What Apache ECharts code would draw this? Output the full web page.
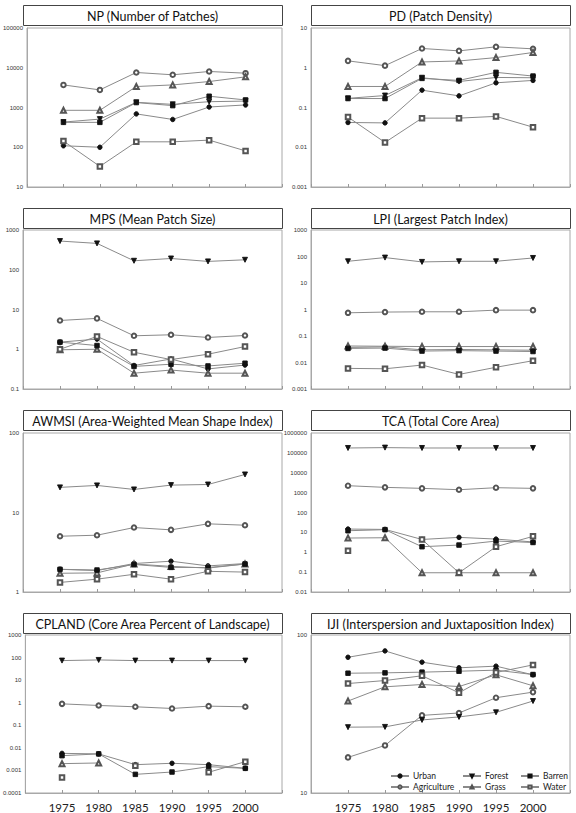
<!DOCTYPE html>
<html>
<head>
<meta charset="utf-8">
<script src="https://cdn.jsdelivr.net/npm/echarts@6/dist/echarts.min.js"></script>
<style>html,body{margin:0;padding:0;background:#fff}#c{width:576px;height:813px}</style>
</head>
<body>
<div id="c"></div>
<script>
// ---- data ----
const years = [1975, 1980, 1985, 1990, 1995, 2000];
const seriesNames = ['Urban', 'Agriculture', 'Forest', 'Grass', 'Barren', 'Water'];
const panelTitles = [
  'NP (Number of Patches)', 'PD (Patch Density)',
  'MPS (Mean Patch Size)', 'LPI (Largest Patch Index)',
  'AWMSI (Area-Weighted Mean Shape Index)', 'TCA (Total Core Area)',
  'CPLAND (Core Area Percent of Landscape)', 'IJI (Interspersion and Juxtaposition Index)'
];
const yMin = [10, 0.001, 0.1, 0.001, 1, 0.01, 0.0001, 10];
const yMax = [100000, 10, 1000, 1000, 100, 1000000, 1000, 100];

// rows: Urban, Agriculture, Forest, Grass, Barren, Water
const NP = [
  [109, 100, 690, 500, 1030, 1160],
  [3700, 2770, 7600, 6650, 8050, 7300],
  [430, 510, 1350, 1200, 1400, 1450],
  [850, 850, 3370, 3700, 4500, 5900],
  [423, 423, 1330, 1115, 1920, 1550],
  [143, 33, 137, 137, 151, 81]
];
const PD = [
  [0.042, 0.041, 0.273, 0.196, 0.418, 0.48],
  [1.49, 1.13, 3.05, 2.66, 3.36, 2.99],
  [0.17, 0.2, 0.56, 0.45, 0.57, 0.56],
  [0.338, 0.338, 1.40, 1.48, 1.80, 2.42],
  [0.168, 0.168, 0.54, 0.48, 0.766, 0.618],
  [0.0575, 0.0132, 0.054, 0.054, 0.0598, 0.032]
];
const MPS = [
  [1.51, 1.80, 0.39, 0.57, 0.32, 0.40],
  [5.3, 5.98, 2.18, 2.31, 1.98, 2.22],
  [527, 460, 168, 192, 162, 178],
  [0.97, 1.0, 0.25, 0.30, 0.25, 0.25],
  [1.51, 1.24, 0.37, 0.42, 0.38, 0.445],
  [1.0, 2.1, 0.84, 0.55, 0.75, 1.17]
];
const LPI = [
  [0.037, 0.039, 0.030, 0.031, 0.030, 0.029],
  [0.75, 0.80, 0.82, 0.82, 0.946, 0.946],
  [66, 91, 62.5, 66, 66, 88],
  [0.042, 0.041, 0.040, 0.040, 0.040, 0.040],
  [0.034, 0.035, 0.027, 0.028, 0.027, 0.026],
  [0.006, 0.0058, 0.008, 0.00355, 0.0066, 0.0117]
];
const AWMSI = [
  [1.93, 1.86, 2.28, 2.44, 2.13, 2.28],
  [5.03, 5.18, 6.47, 6.05, 7.2, 6.92],
  [20.7, 21.9, 19.5, 22.1, 22.5, 30.1],
  [1.72, 1.74, 2.25, 2.1, 2.0, 2.25],
  [1.93, 1.89, 2.22, 2.04, 2.03, 2.25],
  [1.32, 1.45, 1.67, 1.45, 1.82, 1.78]
];
const TCA = [
  [14.7, 14.1, 4.4, 5.6, 4.6, 3.3],
  [2230, 1840, 1640, 1400, 1770, 1640],
  [176000, 184000, 176000, 176000, 176000, 176000],
  [5.19, 5.37, 0.093, 0.093, 0.093, 0.093],
  [12.1, 13.7, 1.9, 2.3, 3.66, 3.1],
  [1.19, null, 4.4, 0.093, 1.9, 6.3]
];
const CPLAND = [
  [0.0057, 0.0054, 0.0018, 0.00207, 0.0018, 0.00124],
  [0.89, 0.755, 0.66, 0.556, 0.705, 0.66],
  [73.5, 78.5, 73.5, 73.5, 73.5, 73.5],
  [0.002, 0.00214, null, null, null, null],
  [0.0045, 0.0054, 0.00067, 0.00085, 0.00147, 0.00124],
  [0.00048, null, 0.00163, null, 0.00083, 0.00245]
];
const IJI = [
  [72.3, 79.3, 67.3, 62.0, 63.5, 56.0],
  [16.8, 20.0, 31.0, 32.1, 40.1, 43.5],
  [26.1, 26.2, 29.0, 30.3, 32.4, 38.2],
  [38.2, 47.0, 48.6, 47.2, 56.0, 47.7],
  [57.3, 57.6, 58.2, 59.0, 59.9, 56.2],
  [49.3, 51.5, 55.2, 43.1, 57.9, 64.7]
];
const metrics = [NP, PD, MPS, LPI, AWMSI, TCA, CPLAND, IJI];

// ---- layout & style ----
const colLeft = [23, 311];
const rowTop = [28, 230, 433, 635];
const titleTop = [5, 208, 410, 613];
const plotW = 259, plotH = 159, titleH = 20;
const FONT = 'Lato, "Open Sans", sans-serif';

const symStyle = {
  Urban: { symbol: 'circle', size: 4.5, color: '#111', rotate: 0 },
  Agriculture: { symbol: 'emptyCircle', size: 4.5, color: '#555', rotate: 0 },
  Forest: { symbol: 'triangle', size: 5, color: '#111', rotate: 180 },
  Grass: { symbol: 'emptyTriangle', size: 5, color: '#555', rotate: 0 },
  Barren: { symbol: 'rect', size: 4.5, color: '#111', rotate: 0 },
  Water: { symbol: 'emptyRect', size: 4.5, color: '#555', rotate: 0 }
};

function powLabel(v) {
  const e = Math.round(Math.log10(v));
  if (e >= 0) return '1' + '0'.repeat(e);
  return '0.' + '0'.repeat(-e - 1) + '1';
}

const grid = [], xAxis = [], yAxis = [], series = [], graphic = [];
for (let p = 0; p < 8; p++) {
  const r = Math.floor(p / 2), c = p % 2;
  const isBottom = r === 3;
  grid.push({
    left: colLeft[c], top: rowTop[r], width: plotW, height: plotH,
    show: true, borderColor: '#a8a8a8', borderWidth: 1, backgroundColor: '#fff'
  });
  xAxis.push({
    type: 'value', gridIndex: p, min: 1970, max: 2005, interval: 5,
    axisLine: { show: true, lineStyle: { color: '#a8a8a8', width: 1 } },
    axisTick: { show: true, inside: true, length: 3, lineStyle: { color: '#999' } },
    splitLine: { show: false },
    axisLabel: {
      show: isBottom, margin: 8, fontSize: 11.5, color: '#222', fontFamily: FONT,
      formatter: v => (v >= 1975 && v <= 2000 ? String(v) : '')
    }
  });
  yAxis.push({
    type: 'log', logBase: 10, gridIndex: p, min: yMin[p], max: yMax[p], splitNumber: 10,
    axisLine: { show: true, lineStyle: { color: '#a8a8a8', width: 1 } },
    axisTick: { show: false },
    minorTick: { show: false },
    splitLine: { show: false },
    axisLabel: {
      margin: 4, fontSize: 6, color: '#333', fontFamily: '"Liberation Sans", Arial, sans-serif',
      formatter: powLabel
    }
  });
  seriesNames.forEach((name, k) => {
    const s = symStyle[name];
    series.push({
      name: name, type: 'line', xAxisIndex: p, yAxisIndex: p,
      data: years.map((yr, i) => [yr, metrics[p][k][i]]),
      symbol: s.symbol, symbolSize: s.size, symbolRotate: s.rotate,
      showAllSymbol: true, connectNulls: false, silent: true,
      lineStyle: { color: '#8a8a8a', width: 1 },
      itemStyle: { color: s.color, borderColor: s.color, borderWidth: 0.9 },
      animation: false
    });
  });
  graphic.push({
    type: 'rect', left: colLeft[c], top: titleTop[r],
    shape: { width: plotW, height: titleH },
    style: { fill: '#fff', stroke: '#444', lineWidth: 1 }, silent: true
  });
  graphic.push({
    type: 'text', x: colLeft[c] + plotW / 2, y: titleTop[r] + titleH / 2 + 1,
    style: {
      text: panelTitles[p], fill: '#111', font: '12.5px ' + FONT,
      textAlign: 'center', textVerticalAlign: 'middle'
    }, silent: true
  });
}

const legendCols = [['Urban', 'Agriculture'], ['Forest', 'Grass'], ['Barren', 'Water']];
const legendLeft = [385, 457, 515];
const legend = legendCols.map((names, i) => ({
  data: names, orient: 'vertical', left: legendLeft[i], top: 766,
  itemWidth: 18, itemHeight: 4, itemGap: 1, selectedMode: false,
  textStyle: { fontSize: 8.5, lineHeight: 10, color: '#222', fontFamily: FONT, padding: [0, 0, 0, -1] }
}));

const chart = echarts.init(document.getElementById('c'), null, { renderer: 'svg' });
chart.setOption({
  animation: false,
  backgroundColor: '#fff',
  grid, xAxis, yAxis, series, legend, graphic
});
</script>
</body>
</html>
